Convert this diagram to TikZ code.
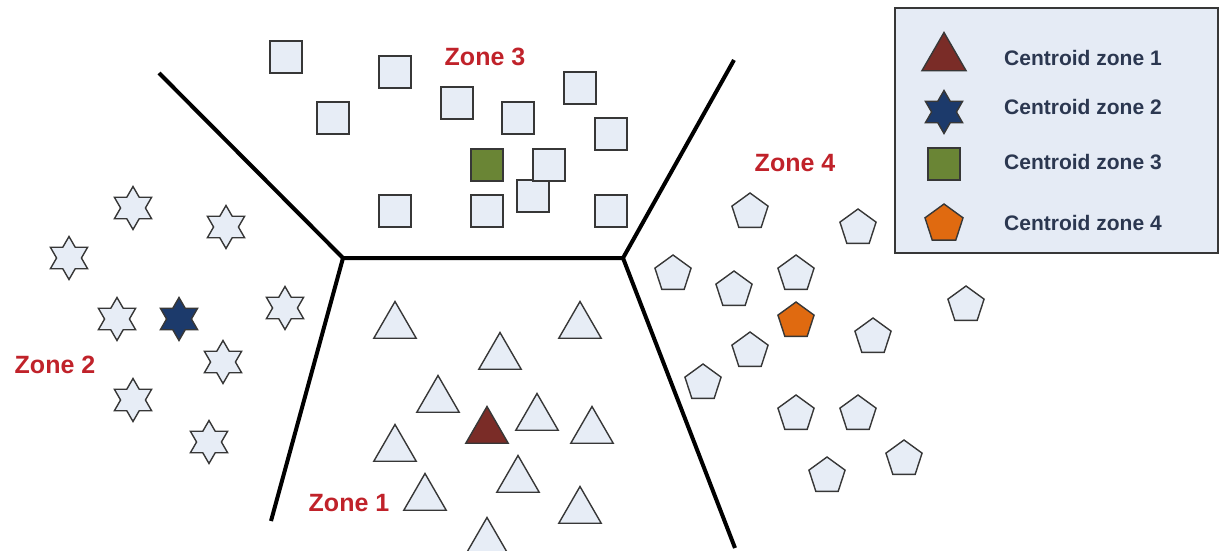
\documentclass[tikz,border=0pt]{standalone}
\usepackage{fontspec}
\setmainfont{Liberation Sans}
\usetikzlibrary{shapes.geometric}
\definecolor{ptfill}{RGB}{231,237,246}
\definecolor{ptline}{RGB}{55,55,55}
\definecolor{legfill}{RGB}{229,235,245}
\definecolor{legtext}{RGB}{43,55,80}
\definecolor{zonered}{RGB}{192,34,42}
\definecolor{ctri}{RGB}{122,44,39}
\definecolor{cstar}{RGB}{28,58,107}
\definecolor{csq}{RGB}{106,133,53}
\definecolor{cpent}{RGB}{224,106,16}
\tikzset{
  pt/.style={draw=ptline, fill=ptfill, line width=1.4pt, inner sep=0pt, outer sep=0pt},
  tri/.style={pt, regular polygon, regular polygon sides=3, minimum size=49pt},
  hexstar/.style={pt, star, star points=6, star point ratio=1.732, minimum size=43pt},
  sq/.style={pt, rectangle, minimum size=32pt},
  pent/.style={pt, regular polygon, regular polygon sides=5, minimum size=38pt},
  border/.style={line width=4pt, black},
  zone/.style={text=zonered, font=\fontsize{25}{30}\selectfont\bfseries, inner sep=0pt},
  legtxt/.style={text=legtext, font=\fontsize{21}{25}\selectfont\bfseries, anchor=west, inner sep=0pt},
}
\begin{document}
\begin{tikzpicture}[x=1pt, y=-1pt]
\useasboundingbox (0,0) rectangle (1220,551);
% borders
\coordinate (tl) at (159,73);
\coordinate (tr) at (734,60);
\coordinate (jl) at (343,258);
\coordinate (jr) at (623,258);
\coordinate (bl) at (271,521);
\coordinate (br) at (735,548);
\draw[border] (tl) -- (jl) -- (jr) -- (tr);
\draw[border] (jl) -- (bl);
\draw[border] (jr) -- (br);
% zone labels
\node[zone] (z3) at (485,57) {Zone 3};
\node[zone] (z4) at (795,163) {Zone 4};
\node[zone] (z2) at (55,365) {Zone 2};
\node[zone] (z1) at (349,503) {Zone 1};
% squares (zone 3)
\node[sq] (s1) at (286,57) {};
\node[sq] (s2) at (395,72) {};
\node[sq] (s3) at (457,103) {};
\node[sq] (s4) at (333,118) {};
\node[sq] (s5) at (518,118) {};
\node[sq] (s6) at (580,88) {};
\node[sq] (s7) at (611,134) {};
\node[sq] (s10) at (533,196) {};
\node[sq] (s9) at (549,165) {};
\node[sq] (s11) at (395,211) {};
\node[sq] (s12) at (487,211) {};
\node[sq] (s13) at (611,211) {};
\node[sq, fill=csq] (s8) at (487,165) {};
% stars (zone 2)
\node[hexstar] (h1) at (133,208) {};
\node[hexstar] (h2) at (226,227) {};
\node[hexstar] (h3) at (69,258) {};
\node[hexstar] (h4) at (117,319) {};
\node[hexstar] (h5) at (285,308) {};
\node[hexstar] (h6) at (223,362) {};
\node[hexstar] (h7) at (133,400) {};
\node[hexstar] (h8) at (209,442) {};
\node[hexstar, fill=cstar] (hc) at (179,319) {};
% pentagons (zone 4)
\node[pent] (p1) at (750,212) {};
\node[pent] (p2) at (858,228) {};
\node[pent] (p3) at (673,274) {};
\node[pent] (p4) at (734,290) {};
\node[pent] (p5) at (796,274) {};
\node[pent] (p6) at (966,305) {};
\node[pent] (p7) at (873,337) {};
\node[pent] (p8) at (750,351) {};
\node[pent] (p9) at (703,383) {};
\node[pent] (p10) at (796,414) {};
\node[pent] (p11) at (858,414) {};
\node[pent] (p12) at (904,459) {};
\node[pent] (p13) at (827,476) {};
\node[pent, fill=cpent] (pc) at (796,321) {};
% triangles (zone 1)
\node[tri] (t1) at (395,326) {};
\node[tri] (t2) at (580,326) {};
\node[tri] (t3) at (500,357) {};
\node[tri] (t4) at (438,400) {};
\node[tri] (t5) at (537,418) {};
\node[tri] (t6) at (592,431) {};
\node[tri] (t7) at (395,449) {};
\node[tri] (t8) at (518,480) {};
\node[tri] (t9) at (425,498) {};
\node[tri] (t10) at (580,511) {};
\node[tri] (t11) at (487,542) {};
\node[tri, fill=ctri] (tc) at (487,431) {};
% legend
\node[draw=ptline, fill=legfill, line width=1.5pt, rectangle, minimum width=323pt, minimum height=245pt, inner sep=0pt] (legend) at (1056.5,130.5) {};
\node[tri, fill=ctri, minimum size=51pt] (lt) at (944,58) {};
\node[hexstar, fill=cstar] (ls) at (944,112) {};
\node[sq, fill=csq] (lq) at (944,164) {};
\node[pent, fill=cpent, minimum size=40pt] (lp) at (944,224) {};
\node[legtxt] (l1) at (1004,58) {Centroid zone 1};
\node[legtxt] (l2) at (1004,107) {Centroid zone 2};
\node[legtxt] (l3) at (1004,162) {Centroid zone 3};
\node[legtxt] (l4) at (1004,223) {Centroid zone 4};
\end{tikzpicture}
\end{document}
